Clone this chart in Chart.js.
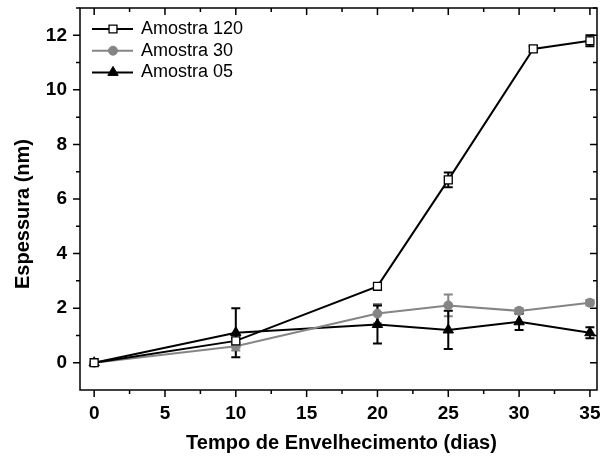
<!DOCTYPE html>
<html>
<head>
<meta charset="utf-8">
<script src="https://cdn.jsdelivr.net/npm/chart.js@4.4.0/dist/chart.umd.min.js"></script>
<style>
  html, body { margin: 0; padding: 0; background: #fff; }
  #wrap { width: 604px; height: 459px; }
</style>
</head>
<body>
<div id="wrap"><canvas id="grafico"></canvas></div>
<script>
// dias de envelhecimento e espessura medida (nm) com desvio
const dias = [0, 10, 20, 25, 30, 35];
const dias120 = [0, 10, 20, 25, 31, 35];
const amostra120 = [0, 0.8, 2.8, 6.7, 11.5, 11.8];
const erro120 = [0, 0.1, 0.1, 0.27, 0.1, 0.2];
const amostra30 = [0, 0.6, 1.8, 2.1, 1.9, 2.2];
const erro30 = [0, 0.15, 0.35, 0.4, 0.1, 0.1];
const amostra05 = [0, 1.1, 1.4, 1.2, 1.5, 1.1];
const erro05 = [0, 0.9, 0.7, 0.7, 0.3, 0.2];
const ticksX = [0, 5, 10, 15, 20, 25, 30, 35];
const ticksY = [0, 2, 4, 6, 8, 10, 12];

const FONTE = '"Liberation Sans", Arial, sans-serif';
const CINZA = '#858585';

const pontos = (xs, ys) => xs.map((x, i) => ({ x: x, y: ys[i] }));

// barras de erro por baixo dos marcadores
const barrasErro = {
    id: 'barrasErro',
    beforeDatasetsDraw(chart) {
        const ctx = chart.ctx;
        const y = chart.scales.y;
        chart.data.datasets.forEach((ds, i) => {
            const meta = chart.getDatasetMeta(i);
            ctx.save();
            ctx.strokeStyle = ds.borderColor;
            ctx.lineWidth = 2;
            meta.data.forEach((p, j) => {
                const e = ds.erros[j];
                if (!e) return;
                const v = ds.data[j].y;
                const y1 = y.getPixelForValue(v + e);
                const y2 = y.getPixelForValue(v - e);
                ctx.beginPath();
                ctx.moveTo(p.x, y1); ctx.lineTo(p.x, y2);
                ctx.moveTo(p.x - 4.5, y1); ctx.lineTo(p.x + 4.5, y1);
                ctx.moveTo(p.x - 4.5, y2); ctx.lineTo(p.x + 4.5, y2);
                ctx.stroke();
            });
            ctx.restore();
        });
    }
};

// moldura com marcas principais e secundárias
const moldura = {
    id: 'moldura',
    beforeDatasetsDraw(chart) {
        const { ctx, chartArea: a, scales } = chart;
        const sx = scales.x, sy = scales.y;
        const menoresX = [];
        for (let i = 0; i < ticksX.length - 1; i++) menoresX.push((ticksX[i] + ticksX[i + 1]) / 2);
        const menoresY = [];
        for (let i = 0; i < ticksY.length - 1; i++) menoresY.push((ticksY[i] + ticksY[i + 1]) / 2);
        menoresY.push(ticksY[ticksY.length - 1] + 1);
        ctx.save();
        ctx.strokeStyle = '#000';
        ctx.lineWidth = 1.5;
        ctx.strokeRect(a.left, a.top, a.right - a.left, a.bottom - a.top);
        ctx.beginPath();
        const marcaX = (v, len) => {
            const px = sx.getPixelForValue(v);
            ctx.moveTo(px, a.bottom); ctx.lineTo(px, a.bottom + len);
            ctx.moveTo(px, a.top); ctx.lineTo(px, a.top + len);
        };
        const marcaY = (v, len) => {
            const py = sy.getPixelForValue(v);
            ctx.moveTo(a.left, py); ctx.lineTo(a.left - len, py);
            ctx.moveTo(a.right, py); ctx.lineTo(a.right - len, py);
        };
        ticksX.forEach(v => marcaX(v, 7));
        menoresX.forEach(v => marcaX(v, 4));
        ticksY.forEach(v => marcaY(v, 7));
        menoresY.forEach(v => marcaY(v, 4));
        ctx.stroke();
        ctx.restore();
    }
};

// legenda no estilo linha-símbolo-linha e títulos dos eixos
const textos = {
    id: 'textos',
    afterDraw(chart) {
        const ctx = chart.ctx;
        const a = chart.chartArea;
        ctx.save();
        chart.data.datasets.forEach((ds, i) => {
            const yy = a.top + 21 + i * 21.7;
            ctx.strokeStyle = ds.borderColor;
            ctx.lineWidth = 2;
            ctx.beginPath();
            ctx.moveTo(a.left + 12, yy); ctx.lineTo(a.left + 53, yy);
            ctx.stroke();
            ctx.fillStyle = ds.pointBackgroundColor;
            ctx.strokeStyle = ds.pointBorderColor;
            ctx.lineWidth = ds.pointBorderWidth;
            Chart.helpers.drawPoint(ctx, { pointStyle: ds.pointStyle, radius: ds.pointRadius, borderWidth: ds.pointBorderWidth }, a.left + 33, yy);
            ctx.fillStyle = '#000';
            ctx.font = '18px ' + FONTE;
            ctx.textBaseline = 'middle';
            ctx.textAlign = 'left';
            ctx.fillText(ds.label, a.left + 61, yy);
        });
        ctx.fillStyle = '#000';
        ctx.font = 'bold 20px ' + FONTE;
        ctx.textAlign = 'center';
        ctx.textBaseline = 'middle';
        ctx.fillText('Tempo de Envelhecimento (dias)', (a.left + a.right) / 2 + 3, a.bottom + 53);
        ctx.translate(23, (a.top + a.bottom) / 2 + 15);
        ctx.rotate(-Math.PI / 2);
        ctx.fillText('Espessura (nm)', 0, 0);
        ctx.restore();
    }
};

document.addEventListener('DOMContentLoaded', function () {
    const ctx = document.getElementById('grafico').getContext('2d');
    new Chart(ctx, {
        type: 'scatter',
        data: {
            datasets: [
                {
                    label: 'Amostra 120',
                    data: pontos(dias120, amostra120),
                    erros: erro120,
                    showLine: true,
                    borderColor: '#000',
                    borderWidth: 2,
                    pointStyle: 'rect',
                    pointRadius: 5.6,
                    pointBackgroundColor: '#fff',
                    pointBorderColor: '#000',
                    pointBorderWidth: 1.3
                },
                {
                    label: 'Amostra 30',
                    data: pontos(dias, amostra30),
                    erros: erro30,
                    showLine: true,
                    borderColor: CINZA,
                    borderWidth: 2,
                    pointStyle: 'circle',
                    pointRadius: 4.5,
                    pointBackgroundColor: CINZA,
                    pointBorderColor: CINZA,
                    pointBorderWidth: 1
                },
                {
                    label: 'Amostra 05',
                    data: pontos(dias, amostra05),
                    erros: erro05,
                    showLine: true,
                    borderColor: '#000',
                    borderWidth: 2,
                    pointStyle: 'triangle',
                    pointRadius: 6,
                    pointBackgroundColor: '#000',
                    pointBorderColor: '#000',
                    pointBorderWidth: 1
                }
            ]
        },
        options: {
            responsive: true,
            maintainAspectRatio: false,
            animation: false,
            clip: false,
            layout: { padding: { left: 0, right: 2, top: 8, bottom: 0 } },
            plugins: {
                legend: { display: false },
                tooltip: { enabled: false }
            },
            scales: {
                x: {
                    type: 'linear',
                    min: -1,
                    max: 35.5,
                    afterBuildTicks: s => { s.ticks = ticksX.map(v => ({ value: v })); },
                    afterFit: s => { s.height = 69; s.paddingLeft = 0; s.paddingRight = 0; },
                    grid: { display: false, drawTicks: false },
                    border: { display: false },
                    ticks: { color: '#000', padding: 12, maxRotation: 0, font: { family: FONTE, size: 19, weight: 'bold' } }
                },
                y: {
                    type: 'linear',
                    min: -1,
                    max: 13,
                    afterBuildTicks: s => { s.ticks = ticksY.map(v => ({ value: v })); },
                    afterFit: s => { s.width = 80; s.paddingTop = 0; s.paddingBottom = 0; },
                    grid: { display: false, drawTicks: false },
                    border: { display: false },
                    ticks: { color: '#000', padding: 13, font: { family: FONTE, size: 19, weight: 'bold' } }
                }
            }
        },
        plugins: [moldura, barrasErro, textos]
    });
});
</script>
</body>
</html>
